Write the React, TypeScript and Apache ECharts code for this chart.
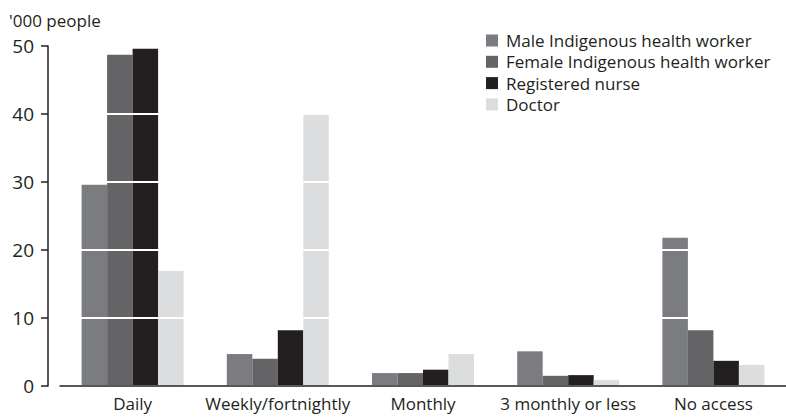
import React, { useEffect, useRef } from "react";
import * as echarts from "echarts";

const categories = ["Daily", "Weekly/fortnightly", "Monthly", "3 monthly or less", "No access"];
const seriesNames = [
  "Male Indigenous health worker",
  "Female Indigenous health worker",
  "Registered nurse",
  "Doctor",
];
const maleValues = [29.6, 4.7, 1.9, 5.1, 21.8];
const femaleValues = [48.7, 4.0, 1.9, 1.5, 8.2];
const nurseValues = [49.6, 8.2, 2.4, 1.6, 3.7];
const doctorValues = [16.9, 39.9, 4.7, 0.9, 3.1];
const yTicks = [0, 10, 20, 30, 40, 50];
const yTitle = "'000 people";

const colors = ["#7b7c80", "#646466", "#231f20", "#dcdddf"];
const FONT = "Open Sans";

export default function App() {
  const ref = useRef<HTMLDivElement>(null);
  useEffect(() => {
    if (!ref.current) return;
    const chart = echarts.init(ref.current, undefined, { renderer: "svg" });
    const allValues = [maleValues, femaleValues, nurseValues, doctorValues];
    chart.setOption({
      animation: false,
      backgroundColor: "#ffffff",
      textStyle: { fontFamily: FONT },
      graphic: [
        {
          type: "text",
          left: 9,
          top: 12,
          z: 20,
          style: { text: yTitle, font: `17px '${FONT}'`, fill: "#231f20" },
        },
      ],
      legend: {
        orient: "vertical",
        left: 486,
        top: 32,
        padding: 0,
        z: 20,
        itemWidth: 12,
        itemHeight: 12,
        itemGap: 4.3,
        icon: "rect",
        textStyle: { fontSize: 17, color: "#231f20", fontFamily: FONT, lineHeight: 16, padding: [0, 0, 0, 3] },
        data: seriesNames,
      },
      grid: { left: 60, top: 46, width: 730, height: 340, containLabel: false },
      xAxis: {
        type: "category",
        data: categories,
        z: 10,
        axisLine: { lineStyle: { color: "#231f20", width: 1.5 } },
        axisTick: { alignWithLabel: true, length: 7, lineStyle: { color: "#231f20", width: 1.5 } },
        axisLabel: { fontSize: 17, color: "#231f20", fontFamily: FONT, margin: 9, interval: 0 },
      },
      yAxis: {
        type: "value",
        min: 0,
        max: 50,
        interval: 10,
        offset: 12,
        z: 5,
        axisLine: { show: true, lineStyle: { color: "#231f20", width: 1.5 } },
        axisTick: { show: true, length: 7, lineStyle: { color: "#231f20", width: 1.5 } },
        axisLabel: {
          fontSize: 19,
          lineHeight: 16,
          color: "#231f20",
          fontFamily: FONT,
          margin: 14,
          formatter: (v: number) => (yTicks.includes(v) ? String(v) : ""),
        },
        splitLine: { show: true, lineStyle: { color: "#ffffff", width: 2 } },
      },
      series: seriesNames.map((name, i) => ({
        name,
        type: "bar",
        data: allValues[i],
        barWidth: 25.5,
        barGap: "0%",
        itemStyle: { color: colors[i] },
        z: 2,
      })),
    });
    return () => chart.dispose();
  }, []);
  return <div ref={ref} style={{ width: 786, height: 418, position: "absolute", left: 0, top: 0 }} />;
}
